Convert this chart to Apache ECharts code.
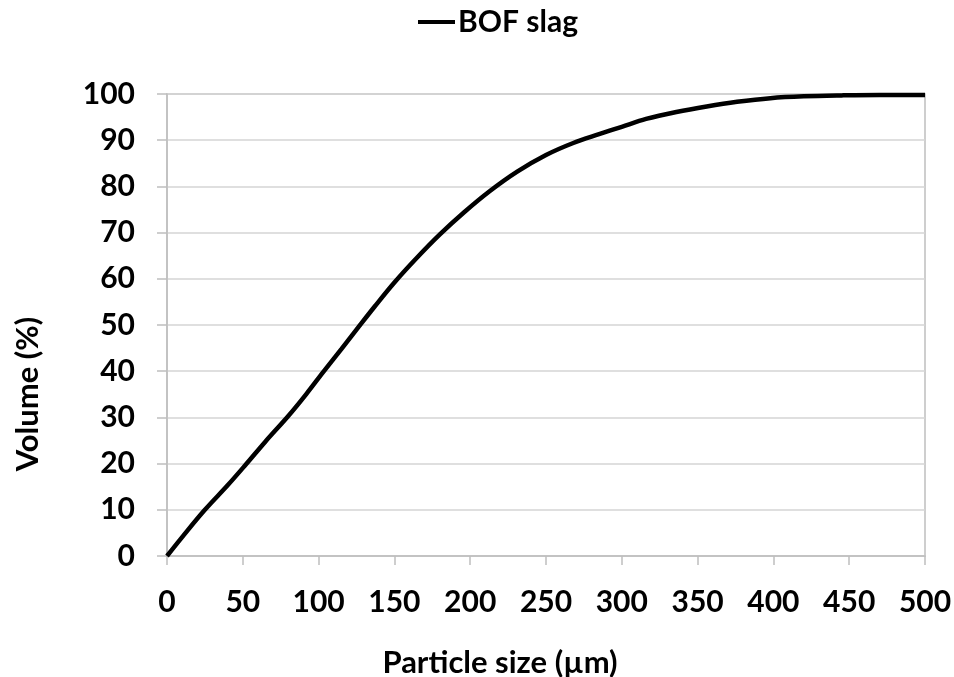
<!DOCTYPE html>
<html>
<head>
<meta charset="utf-8">
<script src="https://cdn.jsdelivr.net/npm/echarts@6/dist/echarts.min.js"></script>
<style>html,body{margin:0;padding:0;background:#fff}#c{width:954px;height:677px}</style>
</head>
<body>
<div id="c"></div>
<script>
const seriesName = 'BOF slag';
const particleSize = [0, 10, 25, 40, 52, 65, 80, 92, 103, 115, 125, 137, 150, 165, 180, 196, 213, 231, 250, 268, 285, 300, 316, 336, 356, 376, 398, 420, 445, 470, 500];
const volume = [0, 4.1, 10, 15.3, 19.8, 24.8, 30.3, 35.1, 39.8, 44.8, 49, 54, 59.2, 64.6, 69.6, 74.4, 79, 83.2, 86.8, 89.4, 91.3, 92.9, 94.6, 96.1, 97.3, 98.3, 99.1, 99.5, 99.7, 99.8, 99.8];
const xTicks = {min: 0, max: 500, interval: 50};
const yTicks = {min: 0, max: 100, interval: 10};

const data = particleSize.map((x, i) => [x, volume[i]]);
const font = 'Lato, "Open Sans", sans-serif';
const chart = echarts.init(document.getElementById('c'), null, {renderer: 'canvas'});
chart.setOption({
  backgroundColor: '#fff',
  animation: false,
  legend: {
    top: 2, left: 413,
    icon: 'rect', itemWidth: 37, itemHeight: 4, itemGap: 10,
    textStyle: {fontFamily: font, fontWeight: 'bold', fontSize: 30, color: '#000', padding: [0,0,0,-2]},
    data: [seriesName]
  },
  grid: {left: 167, right: 29, top: 94, bottom: 121, show: true, borderColor: '#bfbfbf', borderWidth: 1.5, containLabel: false, outerBoundsMode: 'none'},
  xAxis: {
    type: 'value', min: xTicks.min, max: xTicks.max, interval: xTicks.interval,
    name: 'Particle size (µm)', nameLocation: 'middle', nameGap: 91,
    nameTextStyle: {fontFamily: font, fontWeight: 'bold', fontSize: 31, color: '#000', padding: [0, 92, 0, 0]},
    axisLine: {show: true, lineStyle: {color: '#bfbfbf', width: 1.5}},
    axisTick: {show: true, length: 9, lineStyle: {color: '#bfbfbf', width: 1.5}},
    axisLabel: {margin: 31, fontFamily: font, fontWeight: 'bold', fontSize: 30, color: '#000'},
    splitLine: {show: false}
  },
  yAxis: {
    type: 'value', min: yTicks.min, max: yTicks.max, interval: yTicks.interval,
    name: 'Volume (%)', nameLocation: 'middle', nameGap: 124, nameRotate: 90,
    nameTextStyle: {fontFamily: font, fontWeight: 'bold', fontSize: 31, color: '#000', padding: [0, 138, 0, 0]},
    axisLine: {show: true, lineStyle: {color: '#bfbfbf', width: 1.5}},
    axisTick: {show: true, length: 10, lineStyle: {color: '#bfbfbf', width: 1.5}},
    axisLabel: {margin: 32, fontFamily: font, fontWeight: 'bold', fontSize: 30, color: '#000'},
    splitLine: {show: true, lineStyle: {color: '#d4d4d4', width: 1.5}}
  },
  series: [{
    name: seriesName, type: 'line', data: data, smooth: 0.35, showSymbol: false, symbol: 'none',
    lineStyle: {color: '#000', width: 4.5}, itemStyle: {color: '#000'}
  }]
});
</script>
</body>
</html>
